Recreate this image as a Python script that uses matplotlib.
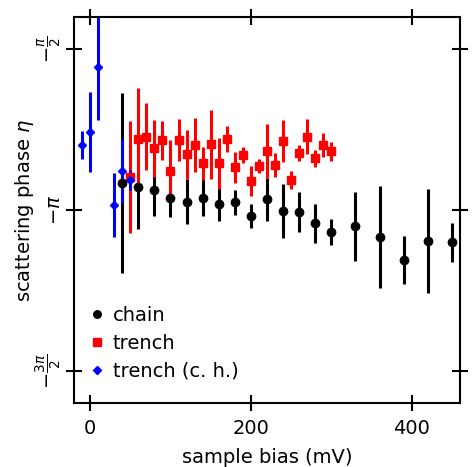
import matplotlib
matplotlib.use('Agg')
import matplotlib.pyplot as plt
import numpy as np

pi = np.pi

# chain
chain_x = [40, 60, 80, 100, 120, 140, 160, 180, 200, 220, 240, 260, 280, 300, 330, 360, 390, 420, 450]
chain_y = [-2.88, -2.914, -2.946, -3.021, -3.06, -3.021, -3.086, -3.066, -3.197, -3.034,
           -3.151, -3.158, -3.268, -3.353, -3.298, -3.402, -3.629, -3.441, -3.457]
chain_e = [0.878, 0.416, 0.25, 0.185, 0.22, 0.18, 0.16, 0.125, 0.12, 0.21,
           0.26, 0.195, 0.19, 0.124, 0.337, 0.5, 0.236, 0.51, 0.19]

# trench
trench_x = [50, 60, 70, 80, 90, 100, 110, 120, 130, 140, 150, 160, 170, 180, 190,
            200, 210, 220, 230, 240, 250, 260, 270, 280, 290, 300]
trench_y = [-2.817, -2.452, -2.426, -2.54, -2.459, -2.761, -2.459, -2.595, -2.507, -2.686,
            -2.50, -2.686, -2.449, -2.725, -2.605, -2.858, -2.712, -2.566, -2.702, -2.468,
            -2.849, -2.582, -2.426, -2.637, -2.507, -2.566]
trench_e = [0.545, 0.50, 0.325, 0.277, 0.19, 0.30, 0.205, 0.24, 0.26, 0.16,
            0.34, 0.25, 0.13, 0.155, 0.08, 0.145, 0.07, 0.26, 0.117, 0.207,
            0.09, 0.08, 0.17, 0.08, 0.12, 0.094]

# trench (c. h.)
ch_x = [-10, 0, 10, 30, 40, 50]
ch_y = [-2.507, -2.383, -1.743, -3.093, -2.758, -2.849]
ch_e = [0.135, 0.39, 0.52, 0.31, 0.31, 0.095]

plt.rcParams['font.family'] = 'DejaVu Sans'
plt.rcParams['font.size'] = 14
plt.rcParams['mathtext.fontset'] = 'dejavusans'

fig = plt.figure(figsize=(4.73, 4.67), dpi=100)
ax = fig.add_axes([0.1564, 0.1377, 0.9725 - 0.1564, 0.963 - 0.1377])

lw = 2.2
ax.errorbar(chain_x, chain_y, yerr=chain_e, fmt='none', ecolor='black', elinewidth=lw, capsize=0, zorder=2)
ax.errorbar(trench_x, trench_y, yerr=trench_e, fmt='none', ecolor='red', elinewidth=lw, capsize=0, zorder=2.1)
ax.errorbar(ch_x, ch_y, yerr=ch_e, fmt='none', ecolor='blue', elinewidth=lw, capsize=0, zorder=2.2)
ax.plot(chain_x, chain_y, 'o', color='black', ms=6, ls='none', zorder=4.5, label='chain')
ax.plot(trench_x, trench_y, 's', color='red', ms=6, ls='none', zorder=4, label='trench')
ax.plot(ch_x, ch_y, 'D', color='blue', ms=4.5, ls='none', zorder=4.2, label='trench (c. h.)')

ax.set_xlim(-20, 460)
ax.set_ylim(-5.02, -1.26)
ax.set_xticks([0, 200, 400])
ax.set_yticks([-3 * pi / 2, -pi, -pi / 2])
ax.set_yticklabels([r'$-\frac{3\pi}{2}$', r'$-\pi$', r'$-\frac{\pi}{2}$'], rotation=90, va='center')
ax.tick_params(direction='inout', length=11, width=1.5, top=True, right=True, labelsize=14)
ax.tick_params(axis='x', pad=6)
ax.tick_params(axis='y', pad=1.5)
for s in ax.spines.values():
    s.set_linewidth(1.5)

ax.set_xlabel('sample bias (mV)', fontsize=14, labelpad=7.5)
ax.set_ylabel(r'scattering phase $\eta$', fontsize=14, labelpad=-1)

leg = ax.legend(loc='lower left', bbox_to_anchor=(0.0, 0.012), frameon=False, handlelength=0.6,
                handletextpad=0.5, labelspacing=0.45, markerscale=0.9, fontsize=14, borderaxespad=0.5)

fig.savefig('out.png', dpi=100)
